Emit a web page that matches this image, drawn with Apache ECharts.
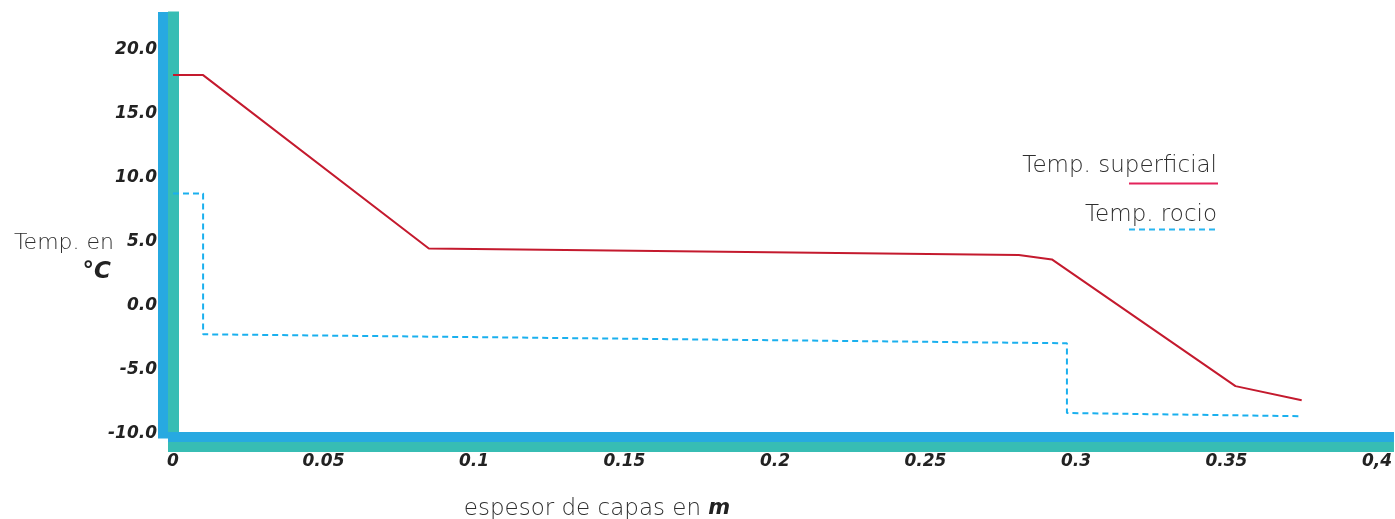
<!DOCTYPE html>
<html>
<head>
<meta charset="utf-8">
<title>Temperatura por capas</title>
<script src="https://cdn.jsdelivr.net/npm/echarts@6/dist/echarts.min.js"></script>
<style>
  html, body { margin: 0; padding: 0; background: #fff; }
  #chart { width: 1395px; height: 519px; }
</style>
</head>
<body>
<div id="chart"></div>
<script>
// espesor acumulado (m) y temperaturas (°C)
const supX = [0, 0.01, 0.085, 0.281, 0.292, 0.353, 0.375];
const supT = [18.0, 18.0, 4.45, 3.95, 3.6, -6.3, -7.4];
const rocX = [0, 0.01, 0.01, 0.297, 0.297, 0.375];
const rocT = [8.75, 8.75, -2.25, -2.95, -8.4, -8.65];

const yMin = -10, yMax = 22.54, yStep = 5;
const xMin = 0, xMax = 0.404, xStep = 0.05;

const BLUE = '#27a9e1';
const TEAL = '#37bdb4';
const labelFont = 'DejaVu Sans';

const chart = echarts.init(document.getElementById('chart'));

function yLabel(v) {
  // solo múltiplos de 5
  if (Math.abs(v / yStep - Math.round(v / yStep)) > 1e-6) return '';
  return v.toFixed(1);
}

function xLabel(v) {
  const k = Math.round(v * 100);
  if (Math.abs(v * 100 - k) > 1e-6 || k % 5) return '';
  if (k === 40) return '0,4';
  return String(k / 100);
}

const option = {
  animation: false,
  grid: { left: 173, top: 17, right: 6, bottom: 85.5, containLabel: false },
  xAxis: [
    {
      type: 'value', min: xMin, max: xMax, interval: xStep,
      position: 'bottom', offset: 3,
      axisLine: { show: true, onZero: false, lineStyle: { color: BLUE, width: 10, cap: 'square' } },
      axisTick: { show: false },
      axisLabel: { show: false },
      splitLine: { show: false }
    },
    {
      type: 'value', min: xMin, max: xMax, interval: xStep,
      position: 'bottom', offset: 13,
      axisLine: { show: true, onZero: false, lineStyle: { color: TEAL, width: 10, cap: 'square' } },
      axisTick: { show: false },
      axisLabel: {
        formatter: xLabel,
        margin: 7,
        color: '#222',
        fontFamily: labelFont,
        fontSize: 17,
        fontWeight: 'bold',
        fontStyle: 'italic'
      },
      splitLine: { show: false }
    }
  ],
  yAxis: [
    {
      type: 'value', min: yMin, max: yMax, interval: yStep,
      position: 'left', offset: 10,
      axisLine: { show: true, onZero: false, lineStyle: { color: BLUE, width: 10, cap: 'square' } },
      axisTick: { show: false },
      axisLabel: {
        formatter: yLabel,
        margin: 6,
        color: '#222',
        fontFamily: labelFont,
        fontSize: 17,
        fontWeight: 'bold',
        fontStyle: 'italic'
      },
      splitLine: { show: false }
    },
    {
      type: 'value', min: yMin, max: yMax, interval: yStep,
      position: 'left', offset: 0,
      axisLine: { show: true, onZero: false, lineStyle: { color: TEAL, width: 11, cap: 'square' } },
      axisTick: { show: false },
      axisLabel: { show: false },
      splitLine: { show: false }
    }
  ],
  series: [
    {
      name: 'Temp. superficial',
      type: 'line',
      xAxisIndex: 0,
      yAxisIndex: 0,
      showSymbol: false,
      symbol: 'none',
      z: 5,
      lineStyle: { color: '#c41a2e', width: 2 },
      itemStyle: { color: '#c41a2e' },
      data: supX.map((x, i) => [x, supT[i]])
    },
    {
      name: 'Temp. rocio',
      type: 'line',
      xAxisIndex: 0,
      yAxisIndex: 0,
      showSymbol: false,
      symbol: 'none',
      z: 5,
      lineStyle: { color: '#1ab0ee', width: 2, type: [6, 4] },
      itemStyle: { color: '#1ab0ee' },
      data: rocX.map((x, i) => [x, rocT[i]])
    }
  ],
  graphic: [
    // leyenda
    {
      type: 'text', x: 1217, y: 166, z: 10,
      style: { text: 'Temp. superficial', fill: '#2e2e2e', font: '300 23px "DejaVu Sans"', textAlign: 'right', textVerticalAlign: 'middle' }
    },
    {
      type: 'line', z: 10,
      shape: { x1: 1129, y1: 183.5, x2: 1218, y2: 183.5 },
      style: { stroke: '#e3235b', lineWidth: 2 }
    },
    {
      type: 'text', x: 1217, y: 215, z: 10,
      style: { text: 'Temp. rocio', fill: '#2e2e2e', font: '300 23px "DejaVu Sans"', textAlign: 'right', textVerticalAlign: 'middle' }
    },
    {
      type: 'line', z: 10,
      shape: { x1: 1129, y1: 229.5, x2: 1218, y2: 229.5 },
      style: { stroke: '#29b5f0', lineWidth: 2, lineDash: [6, 4] }
    },
    // nombre eje y
    {
      type: 'text', x: 114, y: 243, z: 10,
      style: { text: 'Temp. en', fill: '#2e2e2e', font: '300 22px "DejaVu Sans"', textAlign: 'right', textVerticalAlign: 'middle' }
    },
    {
      type: 'text', x: 111, y: 272, z: 10,
      style: { text: '°C', fill: '#222', font: 'italic bold 23px "DejaVu Sans"', textAlign: 'right', textVerticalAlign: 'middle' }
    },
    // nombre eje x
    {
      type: 'text', x: 597, y: 509, z: 10,
      style: {
        text: '{a|espesor de capas en }{b|m}',
        textAlign: 'center',
        textVerticalAlign: 'middle',
        rich: {
          a: { fill: '#2e2e2e', fontFamily: 'DejaVu Sans', fontWeight: 300, fontSize: 23 },
          b: { fill: '#222', fontFamily: 'DejaVu Sans', fontWeight: 'bold', fontStyle: 'italic', fontSize: 21 }
        }
      }
    }
  ]
};

chart.setOption(option);
</script>
</body>
</html>
